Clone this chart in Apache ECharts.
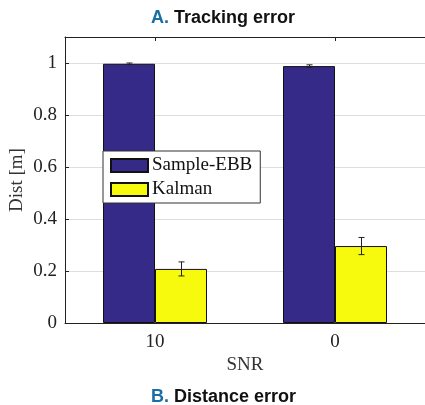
<!DOCTYPE html>
<html><head><meta charset="utf-8">
<script src="https://cdn.jsdelivr.net/npm/echarts@6/dist/echarts.min.js"></script>
<style>html,body{margin:0;padding:0;background:#fff}#c{width:425px;height:405px}</style>
</head><body><div id="c"></div>
<script>
const categories = ['10', '0'];
const seriesNames = ['Sample-EBB', 'Kalman'];
const sampleEBB = [0.997, 0.988];
const sampleEBBErr = [0.003, 0.005];
const kalman = [0.208, 0.296];
const kalmanErr = [0.027, 0.033];
const yTicks = [0, 0.2, 0.4, 0.6, 0.8, 1];

const BAR_W = 52;
const serif = 'Liberation Serif';
const sans = 'Liberation Sans';

function errSeries(vals, errs, offset) {
  return {
    type: 'custom',
    xAxisIndex: 0,
    z: 10,
    silent: true,
    data: vals.map((v, i) => [i, v - errs[i], v + errs[i]]),
    renderItem: function (params, api) {
      const lo = api.coord([api.value(0), api.value(1)]);
      const hi = api.coord([api.value(0), api.value(2)]);
      const x = Math.round(lo[0] + offset) + 0.5;
      const cw = 3;
      const st = { stroke: '#222', lineWidth: 1 };
      return { type: 'group', children: [
        { type: 'line', shape: { x1: x, y1: lo[1], x2: x, y2: hi[1] }, style: st },
        { type: 'line', shape: { x1: x - cw, y1: lo[1], x2: x + cw, y2: lo[1] }, style: st },
        { type: 'line', shape: { x1: x - cw, y1: hi[1], x2: x + cw, y2: hi[1] }, style: st }
      ]};
    }
  };
}

const titleRich = { a: { color: '#1a6ea6', fontSize: 18, fontWeight: 'bold', fontFamily: sans },
                    b: { color: '#111', fontSize: 18, fontWeight: 'bold', fontFamily: sans } };

const chart = echarts.init(document.getElementById('c'));
chart.setOption({
  backgroundColor: '#fff',
  animation: false,
  title: [
    { text: '{a|A.} {b|Tracking error}', left: 151, top: 9, padding: 0,
      textStyle: { rich: titleRich } },
    { text: '{a|B.} {b|Distance error}', left: 151, top: 388, padding: 0,
      textStyle: { rich: titleRich } }
  ],
  legend: {
    orient: 'vertical', left: 103, top: 151,
    data: seriesNames,
    itemWidth: 37, itemHeight: 13, itemGap: 5,
    icon: 'rect',
    backgroundColor: '#fff', borderColor: '#333', borderWidth: 1,
    padding: [5, 8, 4, 7],
    textStyle: { fontFamily: serif, fontSize: 19, color: '#111', padding: [0, 0, 0, -1] }
  },
  grid: { left: 65, right: 0, top: 37, bottom: 82, containLabel: false, outerBoundsMode: 'none' },
  xAxis: [
    { type: 'category', data: categories, position: 'bottom',
      name: 'SNR', nameLocation: 'middle', nameGap: 33, nameMoveOverlap: false,
      nameTextStyle: { fontFamily: serif, fontSize: 19, color: '#333' },
      axisLine: { lineStyle: { color: '#222', width: 1 } },
      axisTick: { show: false },
      axisLabel: { fontFamily: serif, fontSize: 19, color: '#222', margin: 10 } },
    { type: 'category', data: categories, position: 'top',
      axisLine: { lineStyle: { color: '#222', width: 1 } },
      axisTick: { show: true, alignWithLabel: true, inside: true, length: 4, lineStyle: { color: '#222' } },
      axisLabel: { show: false } }
  ],
  yAxis: {
    type: 'value', min: 0, max: 1.1, interval: 0.2,
    name: 'Dist [m]', nameLocation: 'middle', nameGap: 38, nameMoveOverlap: false,
    nameTextStyle: { fontFamily: serif, fontSize: 19, color: '#333' },
    axisLine: { show: true, lineStyle: { color: '#222', width: 1 } },
    axisTick: { show: true, inside: true, length: 4, lineStyle: { color: '#222' } },
    splitLine: { lineStyle: { color: '#dedede' } },
    axisLabel: { fontFamily: serif, fontSize: 19, color: '#222', margin: 8,
      formatter: v => yTicks.some(t => Math.abs(t - v) < 1e-9) ? String(+v.toFixed(1)) : '' }
  },
  series: [
    { name: seriesNames[0], type: 'bar', data: sampleEBB, barWidth: BAR_W, barGap: '0%',
      itemStyle: { color: '#352a87', borderColor: '#111', borderWidth: 1 } },
    { name: seriesNames[1], type: 'bar', data: kalman, barWidth: BAR_W, barGap: '0%',
      itemStyle: { color: '#f8fa0d', borderColor: '#111', borderWidth: 1 } },
    errSeries(sampleEBB, sampleEBBErr, -BAR_W / 2),
    errSeries(kalman, kalmanErr, BAR_W / 2)
  ]
});
</script></body></html>
